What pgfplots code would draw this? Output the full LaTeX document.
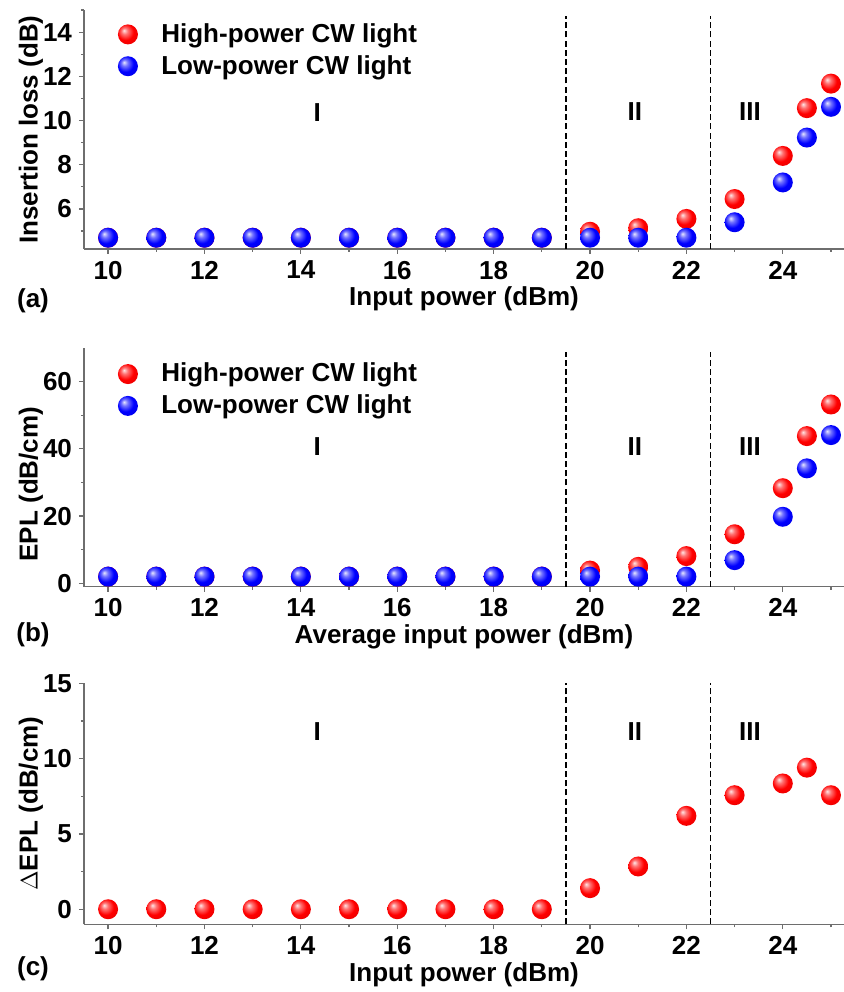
\documentclass[border=0pt]{standalone}
\usepackage{pgfplots}
\pgfplotsset{compat=1.18}
\usepackage{fontspec}
\setmainfont{Liberation Sans}
\usetikzlibrary{shadings}
\makeatletter
\pgfdeclareradialshading[tikz@ball]{ball}{\pgfqpoint{-10bp}{10bp}}{%
  color(0bp)=(tikz@ball!10!white); color(8bp)=(tikz@ball!55!white);
  color(20bp)=(tikz@ball); color(38bp)=(tikz@ball!88!black);
  color(50bp)=(tikz@ball!70!black)}
\makeatother
\definecolor{axgray}{RGB}{110,110,110}
\newcommand\f{\bfseries\fontsize{13}{15.6}\selectfont}
\pgfplotsset{
  myax/.style={
    scale only axis, width=380pt,
    axis lines=left,
    axis line style={-, draw=axgray, line width=0.6pt},
    tick style={draw=axgray, line width=0.6pt},
    tick align=outside,
    major tick length=2.5pt, minor tick length=1.5pt,
    xmin=9.5, xmax=25.27,
    xtick={10,12,...,24}, minor xtick={11,13,...,25},
    tick label style={font=\f},
    /pgf/number format/assume math mode=true,
    clip=false,
    every axis x label/.style={at={(axis description cs:0.5,-0.21)}, anchor=center, font=\f},
    every axis y label/.style={at={(axis description cs:-0.07,0.5)}, rotate=90, anchor=center, font=\f},
    legend style={draw=none, fill=none, font=\f, anchor=north west, row sep=1pt, inner sep=0pt},
    legend cell align=left,
  },
  hp/.style={only marks, mark=ball, mark size=5pt, mark options={ball color=red, draw opacity=0}},
  lp/.style={only marks, mark=ball, mark size=5pt, mark options={ball color=blue, draw opacity=0}},
  dl/.style={black, line width=0.9pt, dash pattern=on 3pt off 1.6pt, forget plot},
}
\begin{document}
\begin{tikzpicture}
\useasboundingbox (0,0) rectangle (422pt,496pt);
% (a)
\begin{axis}[myax, at={(42pt,371.5pt)}, anchor=south west, height=119.5pt,
  ymin=4.19, ymax=15, ytick={6,8,...,14}, minor ytick={5,7,...,15},
  xlabel={Input power (dBm)}, ylabel={Insertion loss (dB)},
  legend style={at={(axis description cs:0.0436,0.962)}}]
\addplot[hp] coordinates {(10,4.7)(11,4.7)(12,4.7)(13,4.7)(14,4.7)(15,4.7)(16,4.7)(17,4.7)(18,4.7)(19,4.7)(20,4.97)(21,5.13)(22,5.55)(23,6.45)(24,8.4)(24.5,10.56)(25,11.67)};
\addlegendentry{\hspace{9.5pt}High-power CW light}
\addplot[lp] coordinates {(10,4.7)(11,4.7)(12,4.7)(13,4.7)(14,4.7)(15,4.7)(16,4.7)(17,4.7)(18,4.7)(19,4.7)(20,4.7)(21,4.7)(22,4.7)(23,5.4)(24,7.2)(24.5,9.23)(25,10.62)};
\addlegendentry{\hspace{9.5pt}Low-power CW light}
\addplot[dl] coordinates {(19.5,4.19)(19.5,14.73)};
\addplot[dl] coordinates {(22.5,4.19)(22.5,14.73)};
\node[font=\f] at (axis cs:14.34,10.36) {I};
\node[font=\f] at (axis cs:20.93,10.4) {II};
\node[font=\f] at (axis cs:23.32,10.4) {III};
\end{axis}
% (b)
\begin{axis}[myax, at={(42pt,202.65pt)}, anchor=south west, height=119.35pt,
  ymin=-1, ymax=70, ytick={0,20,40,60}, minor ytick={10,30,50},
  xlabel={Average input power (dBm)}, ylabel={EPL (dB/cm)},
  every axis y label/.style={at={(axis description cs:-0.07,0.43)}, rotate=90, anchor=center, font=\f},
  legend style={at={(axis description cs:0.0436,0.955)}}]
\addplot[hp] coordinates {(10,2)(11,2)(12,2)(13,2)(14,2)(15,2)(16,2)(17,2)(18,2)(19,2)(20,3.8)(21,4.9)(22,8.1)(23,14.6)(24,28.3)(24.5,43.8)(25,53.2)};
\addlegendentry{\hspace{9.5pt}High-power CW light}
\addplot[lp] coordinates {(10,2)(11,2)(12,2)(13,2)(14,2)(15,2)(16,2)(17,2)(18,2)(19,2)(20,2)(21,2)(22,2)(23,6.9)(24,19.8)(24.5,34.2)(25,44.1)};
\addlegendentry{\hspace{9.5pt}Low-power CW light}
\addplot[dl] coordinates {(19.5,-1)(19.5,68.9)};
\addplot[dl] coordinates {(22.5,-1)(22.5,68.9)};
\node[font=\f] at (axis cs:14.34,40.6) {I};
\node[font=\f] at (axis cs:20.93,40.6) {II};
\node[font=\f] at (axis cs:23.32,40.6) {III};
\end{axis}
% (c)
\begin{axis}[myax, at={(42pt,33.85pt)}, anchor=south west, height=120.5pt,
  ymin=-1, ymax=15, ytick={0,5,10,15}, minor ytick={2.5,7.5,12.5},
  xlabel={Input power (dBm)}, ylabel={$\Delta$EPL (dB/cm)}]
\addplot[hp] coordinates {(10,0)(11,0)(12,0)(13,0)(14,0)(15,0)(16,0)(17,0)(18,0)(19,0)(20,1.4)(21,2.84)(22,6.2)(23,7.57)(24,8.35)(24.5,9.4)(25,7.57)};
\addplot[dl] coordinates {(19.5,-1)(19.5,15)};
\addplot[dl] coordinates {(22.5,-1)(22.5,15)};
\node[font=\f] at (axis cs:14.34,11.8) {I};
\node[font=\f] at (axis cs:20.93,11.8) {II};
\node[font=\f] at (axis cs:23.32,11.8) {III};
\end{axis}
\node[font=\f] at (16.5pt,345.5pt) {(a)};
\node[font=\f] at (16.5pt,178.5pt) {(b)};
\node[font=\f] at (16.5pt,11.5pt) {(c)};
\end{tikzpicture}
\end{document}
